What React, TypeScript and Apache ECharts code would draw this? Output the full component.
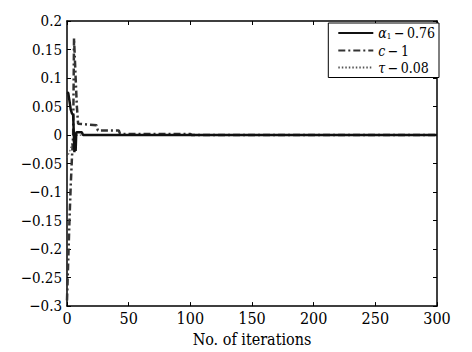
import React, { useEffect, useRef } from "react";
import * as echarts from "echarts";

const alphaIter = [0, 1, 2, 3, 4, 5, 6, 6.5, 7, 7.5, 8, 12, 13, 300];
const alphaVal = [0.075, 0.074, 0.06, 0.045, 0.038, 0.035, -0.03, 0.0, -0.028, 0.004, 0.005, 0.005, 0.0, 0.0];
const cIter = [0, 1, 2, 3, 4, 5, 5.7, 7, 8, 9, 24, 25, 42, 43, 100, 101, 300];
const cVal = [-0.29, -0.22, -0.15, -0.09, -0.04, 0.0, 0.17, 0.1, 0.05, 0.02, 0.017, 0.008, 0.008, 0.002, 0.002, 0.0, 0.0];
const tauIter = [0, 2, 4, 6, 8, 300];
const tauVal = [-0.04, -0.03, -0.015, -0.005, 0.0, 0.0];
const names = ["α1 − 0.76", "c − 1", "τ − 0.08"];
const legendRich = [
  "{i|α}{s|1}{n|\u2009−\u20090.76}",
  "{i|c}{n|\u2009−\u20091}",
  "{i|τ}{n|\u2009−\u20090.08}",
];

const zip = (xs: number[], ys: number[]) => xs.map((x, i) => [x, ys[i]]);
const FONT = "'DejaVu Serif Condensed', 'DejaVu Serif'";

export default function App() {
  const ref = useRef<HTMLDivElement>(null);
  useEffect(() => {
    const chart = echarts.init(ref.current!, null, { renderer: "svg" });
    const axisLine = { show: true, onZero: false, lineStyle: { color: "#000", width: 1.5 } };
    const tick = { show: true, inside: true, length: 4, lineStyle: { color: "#000" } };
    chart.setOption({
      animation: false,
      backgroundColor: "#fff",
      textStyle: { fontFamily: FONT },
      grid: { left: 67, top: 21, right: 35, bottom: 40 },
      legend: {
        top: 23,
        right: 33,
        orient: "vertical",
        backgroundColor: "#fff",
        borderColor: "#000",
        borderWidth: 1,
        borderRadius: 0,
        padding: [3, 4, 3, 9],
        itemGap: 3,
        itemWidth: 35,
        itemHeight: 14,
        itemStyle: { opacity: 0 },
        formatter: (n: string) => legendRich[names.indexOf(n)],
        textStyle: {
          fontFamily: FONT,
          fontSize: 14,
          color: "#000",
          rich: {
            i: { fontFamily: FONT, fontSize: 14, fontStyle: "italic", color: "#000" },
            s: { fontFamily: FONT, fontSize: 8, color: "#000", verticalAlign: "bottom", padding: [7, 0, 0, 0] },
            n: { fontFamily: FONT, fontSize: 14, color: "#000" },
          },
        },
        data: names,
      },
      xAxis: [
        {
          type: "value",
          min: 0,
          max: 300,
          interval: 50,
          name: "No. of iterations",
          nameLocation: "middle",
          nameGap: 22,
          nameTextStyle: { fontFamily: FONT, fontSize: 16, color: "#000" },
          axisLine,
          axisTick: tick,
          splitLine: { show: false },
          axisLabel: { fontFamily: FONT, fontSize: 16, color: "#000", margin: 4 },
        },
        {
          type: "value",
          position: "top",
          min: 0,
          max: 300,
          interval: 50,
          axisLine,
          axisTick: tick,
          splitLine: { show: false },
          axisLabel: { show: false },
        },
      ],
      yAxis: [
        {
          type: "value",
          min: -0.3,
          max: 0.2,
          interval: 0.05,
          axisLine,
          axisTick: tick,
          splitLine: { show: false },
          axisLabel: {
            fontFamily: FONT,
            fontSize: 15,
            color: "#000",
            margin: 5,
            formatter: (v: number) => {
              const r = Math.round(v * 100) / 100;
              return String(r).replace("-", "−");
            },
          },
        },
        {
          type: "value",
          position: "right",
          min: -0.3,
          max: 0.2,
          interval: 0.05,
          axisLine,
          axisTick: tick,
          splitLine: { show: false },
          axisLabel: { show: false },
        },
      ],
      series: [
        {
          name: names[0],
          type: "line",
          data: zip(alphaIter, alphaVal),
          showSymbol: false,
          symbol: "none",
          z: 3,
          lineStyle: { color: "#111", width: 2.5 },
          itemStyle: { color: "#111" },
        },
        {
          name: names[1],
          type: "line",
          data: zip(cIter, cVal),
          showSymbol: false,
          symbol: "none",
          z: 2,
          lineStyle: { color: "#333", width: 2.5, type: [7, 3, 2, 3] },
          itemStyle: { color: "#333" },
        },
        {
          name: names[2],
          type: "line",
          data: zip(tauIter, tauVal),
          showSymbol: false,
          symbol: "none",
          z: 1,
          lineStyle: { color: "#555", width: 1.2, type: [1.5, 2] },
          itemStyle: { color: "#555" },
        },
      ],
    });
    return () => chart.dispose();
  }, []);
  return (
    <div
      ref={ref}
      style={{ position: "fixed", left: 0, top: 0, width: 472, height: 352 }}
    />
  );
}
